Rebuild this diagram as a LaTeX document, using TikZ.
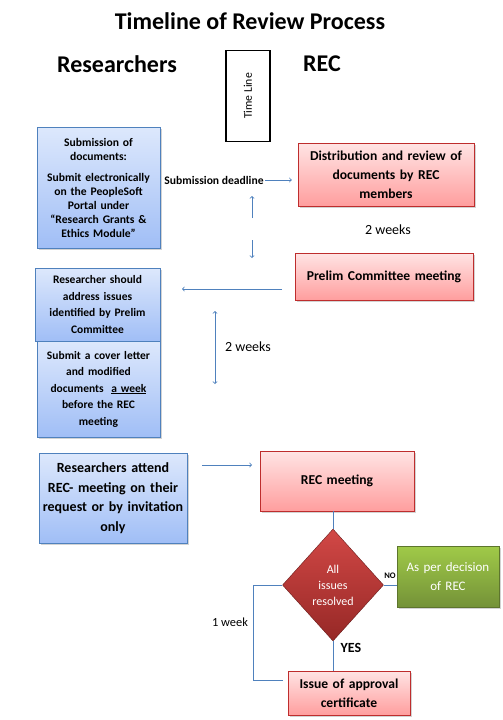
\documentclass[tikz,border=0pt]{standalone}
\usepackage{fontspec}
\setmainfont{Carlito}
\usetikzlibrary{positioning,shapes.geometric,arrows,shadows}
\definecolor{linkblue}{RGB}{79,129,189}
\definecolor{bluetop}{RGB}{221,232,252}
\definecolor{bluebot}{RGB}{160,190,246}
\definecolor{redtop}{RGB}{255,228,228}
\definecolor{redbot}{RGB}{255,158,158}
\definecolor{redborder}{RGB}{190,45,45}
\definecolor{diatop}{RGB}{210,72,70}
\definecolor{diabot}{RGB}{150,40,38}
\definecolor{greentop}{RGB}{160,202,72}
\definecolor{greenbot}{RGB}{116,146,56}

\tikzset{
  boxbase/.style={align=center, inner sep=1pt,
    drop shadow={shadow xshift=2pt, shadow yshift=-2pt, opacity=0.35}},
  bluebox/.style={boxbase, draw=linkblue, top color=bluetop, bottom color=bluebot,
    font=\bfseries\fontsize{11.6}{14}\selectfont},
  redbox/.style={boxbase, draw=redborder, top color=redtop, bottom color=redbot,
    font=\bfseries\fontsize{13.6}{19}\selectfont},
  greenbox/.style={boxbase, draw=greenbot!80!black, top color=greentop, bottom color=greenbot,
    text=white, font=\fontsize{13}{19}\selectfont},
  decision/.style={diamond, draw=diabot!70!black, top color=diatop, bottom color=diabot,
    text=white, align=center, inner sep=0pt, font=\fontsize{12}{16}\selectfont},
  link/.style={draw=linkblue, line width=0.8pt},
  lbl/.style={font=\fontsize{12.4}{14}\selectfont},
  heading/.style={font=\bfseries\fontsize{24}{28}\selectfont}
}

\begin{document}
\begin{tikzpicture}[x=1pt,y=-1pt]
\useasboundingbox (0,0) rectangle (503,720);

% Headings
\node[heading] (title) at (250,21) {Timeline of Review Process};
\node[heading] (res) at (117,64) {Researchers};
\node[heading] (rec) at (322,64) {REC};
\node[draw=black, line width=1.3pt, minimum width=44pt, minimum height=91pt] (tline) at (248,96) {};
\node[rotate=90, font=\fontsize{11.7}{13}\selectfont] (tlabel) at (tline.center) {Time Line};

% Researchers side
\node[bluebox, minimum width=123pt, minimum height=121pt, text width=121pt] (submit) at (98.5,187.5)
  {Submission of\\documents:\\[7pt]Submit electronically\\on the PeopleSoft\\Portal under\\“Research Grants \&\\Ethics Module”};
\node[bluebox, minimum width=125pt, minimum height=73pt, text width=123pt,
  font=\bfseries\fontsize{11.5}{16.5}\selectfont] (address) at (97.5,304.5)
  {Researcher should\\address issues\\identified by Prelim\\Committee};
\node[bluebox, minimum width=123pt, minimum height=96pt, text width=121pt,
  font=\bfseries\fontsize{11.5}{16.5}\selectfont] (cover) at (98.5,389)
  {Submit a cover letter\\and modified\\documents \ \underline{a week}\\before the REC\\meeting};
\node[bluebox, minimum width=148pt, minimum height=90pt, text width=146pt,
  font=\bfseries\fontsize{14}{19.5}\selectfont] (attend) at (113,498)
  {Researchers attend\\REC- meeting on their\\request or by invitation\\only};

% REC side
\node[redbox, minimum width=176pt, minimum height=63pt, text width=174pt] (review) at (386,174.5)
  {Distribution and review of\\documents by REC\\members};
\node[redbox, minimum width=178pt, minimum height=47pt, text width=176pt] (prelim) at (384,276.5)
  {Prelim Committee meeting};
\node[redbox, minimum width=154pt, minimum height=60pt, text width=152pt] (meeting) at (337,481)
  {REC meeting\\[12pt]};
\node[decision, minimum width=101pt, minimum height=112pt] (resolved) at (333,585)
  {All\\issues\\resolved};
\node[greenbox, minimum width=102pt, minimum height=61pt, text width=100pt] (decide) at (448,576.5)
  {As per decision\\of REC};
\node[redbox, minimum width=122pt, minimum height=44pt, text width=120pt] (approve) at (349,693)
  {Issue of approval\\certificate};

% Timeline labels
\node[font=\bfseries\fontsize{11.6}{13}\selectfont] (deadline) at (214,180) {Submission deadline};
\node[lbl, font=\fontsize{14}{16}\selectfont] (weeksA) at (388,230) {2 weeks};
\node[lbl, font=\fontsize{14}{16}\selectfont] (weeksB) at (248,347) {2 weeks};
\node[lbl] (week) at (230,622) {1 week};
\node[font=\bfseries\fontsize{8.5}{10}\selectfont] (no) at (390,576) {NO};
\node[font=\bfseries\fontsize{14}{16}\selectfont] (yes) at (351,648) {YES};

% Free ends
\coordinate (upA) at (252,218);
\coordinate (upB) at (252,196);
\coordinate (dnA) at (252,240);
\coordinate (dnB) at (252,258);
\coordinate (backA) at (282,289);
\coordinate (backB) at (182,289);
\coordinate (spanA) at (215,311);
\coordinate (spanB) at (215,384);
\coordinate (goA) at (202,465);
\coordinate (goB) at (252,465);
\coordinate (loopA) at (253,582);
\coordinate (loopB) at (283,680);

% Connectors
\draw[link,->] ([xshift=-2pt]deadline.east) -- ([xshift=-6pt]deadline.east -| review.west);
\draw[link,->] (upA) -- (upB);
\draw[link,->] (dnA) -- (dnB);
\draw[link,->] (backA) -- (backB);
\draw[link,<->] (spanA) -- (spanB);
\draw[link,->] (goA) -- (goB);
\draw[link] (resolved.north |- meeting.south) -- (resolved.north);
\draw[link] (resolved.east) -- (resolved.east -| decide.west);
\draw[link] (resolved.south) -- (resolved.south |- approve.north);
\draw[link] (resolved.west) -- (resolved.west -| loopA) |- (loopB);
\end{tikzpicture}
\end{document}
